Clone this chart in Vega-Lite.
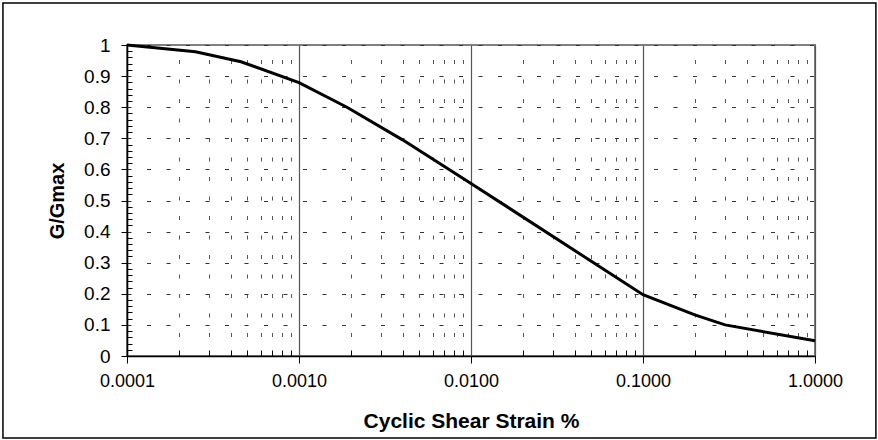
{
  "$schema": "https://vega.github.io/schema/vega-lite/v6.json",
  "width": 688,
  "height": 311,
  "autosize": {"type": "none"},
  "padding": {"left": 127, "top": 45, "right": 63, "bottom": 84},
  "background": "white",
  "config": {
    "view": {"stroke": "#808080", "strokeWidth": 2},
    "font": "Liberation Sans",
    "axis": {"labelFont": "Liberation Sans", "titleFont": "Liberation Sans", "labelColor": "#000", "titleColor": "#000"}
  },
  "data": {
    "values": [
      {"strain": 0.0001, "g": 1.0},
      {"strain": 0.00025, "g": 0.978},
      {"strain": 0.00046, "g": 0.946},
      {"strain": 0.001, "g": 0.879},
      {"strain": 0.0019, "g": 0.8},
      {"strain": 0.004, "g": 0.695},
      {"strain": 0.01, "g": 0.555},
      {"strain": 0.1, "g": 0.197},
      {"strain": 0.2, "g": 0.132},
      {"strain": 0.3, "g": 0.1},
      {"strain": 1.0, "g": 0.049}
    ]
  },
  "resolve": {"axis": {"x": "independent", "y": "independent"}},
  "layer": [
    {
      "mark": {"type": "line", "strokeOpacity": 0},
      "encoding": {
        "x": {
          "field": "strain", "type": "quantitative",
          "scale": {"type": "log", "domain": [0.0001, 1], "nice": false},
          "axis": {
            "orient": "bottom", "title": null, "labels": false, "domain": false,
            "values": [0.0002, 0.0003, 0.0004, 0.0005, 0.0006, 0.0007, 0.0008, 0.0009, 0.002, 0.003, 0.004, 0.005, 0.006, 0.007, 0.008, 0.009, 0.02, 0.03, 0.04, 0.05, 0.06, 0.07, 0.08, 0.09, 0.2, 0.3, 0.4, 0.5, 0.6, 0.7, 0.8, 0.9],
            "ticks": true, "tickSize": -6, "tickColor": "#000", "tickWidth": 1,
            "grid": true, "gridColor": "#555", "gridWidth": 1, "gridDash": [4, 15.5], "gridDashOffset": 5
          }
        },
        "y": {
          "field": "g", "type": "quantitative",
          "scale": {"domain": [0, 1], "nice": false, "zero": false},
          "axis": {
            "orient": "left", "title": null, "labels": false, "domain": false, "grid": false,
            "values": [0.02, 0.04, 0.06, 0.08, 0.12, 0.14, 0.16, 0.18, 0.22, 0.24, 0.26, 0.28, 0.32, 0.34, 0.36, 0.38, 0.42, 0.44, 0.46, 0.48, 0.52, 0.54, 0.56, 0.58, 0.62, 0.64, 0.66, 0.68, 0.72, 0.74, 0.76, 0.78, 0.82, 0.84, 0.86, 0.88, 0.92, 0.94, 0.96, 0.98],
            "ticks": true, "tickSize": -5, "tickColor": "#000", "tickWidth": 1
          }
        }
      }
    },
    {
      "mark": {"type": "line", "color": "#000", "strokeWidth": 3},
      "encoding": {
        "x": {
          "field": "strain", "type": "quantitative",
          "scale": {"type": "log", "domain": [0.0001, 1], "nice": false},
          "axis": {
            "orient": "bottom", "title": "Cyclic Shear Strain %",
            "values": [0.0001, 0.001, 0.01, 0.1, 1], "format": ".4f",
            "labelFontSize": 18, "labelPadding": 9, "labelFlush": false,
            "titleFontSize": 21, "titleFontWeight": "bold", "titlePadding": 20,
            "domain": true, "domainColor": "#000", "domainWidth": 1.5,
            "ticks": true, "tickSize": 7, "tickColor": "#000", "tickWidth": 1,
            "grid": true, "gridColor": "#555", "gridWidth": 1.2
          }
        },
        "y": {
          "field": "g", "type": "quantitative",
          "scale": {"domain": [0, 1], "nice": false, "zero": false},
          "axis": {
            "orient": "left", "title": "G/Gmax",
            "values": [0, 0.1, 0.2, 0.3, 0.4, 0.5, 0.6, 0.7, 0.8, 0.9, 1], "format": ".1~f",
            "labelFontSize": 19, "labelPadding": 11,
            "titleFontSize": 20, "titleFontWeight": "bold", "titlePadding": 16,
            "domain": true, "domainColor": "#000", "domainWidth": 1.5,
            "ticks": true, "tickSize": 6, "tickColor": "#000", "tickWidth": 1,
            "grid": true, "gridColor": "#333", "gridWidth": 1, "gridDash": [4, 15.5]
          }
        }
      }
    },
    {
      "data": {"values": [{}]},
      "mark": {"type": "rect", "fill": null, "stroke": "#000", "strokeWidth": 1.5, "clip": false},
      "encoding": {
        "x": {"datum": 0.000019, "type": "quantitative", "axis": null},
        "x2": {"datum": 2.26},
        "y": {"datum": 1.135, "type": "quantitative", "axis": null},
        "y2": {"datum": -0.264}
      }
    }
  ]
}
